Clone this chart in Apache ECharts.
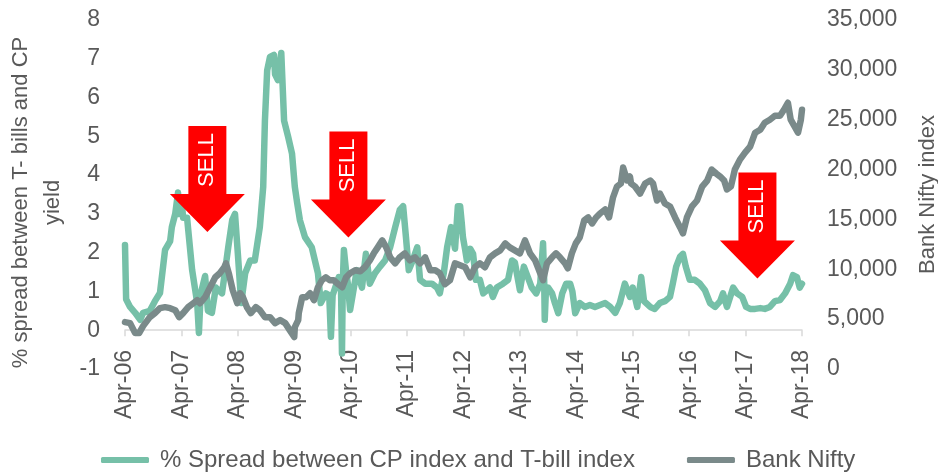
<!DOCTYPE html>
<html>
<head>
<meta charset="utf-8">
<script src="https://cdn.jsdelivr.net/npm/echarts@6/dist/echarts.min.js"></script>
<style>html,body{margin:0;padding:0;background:#fff}#c{width:938px;height:474px}</style>
</head>
<body>
<div id="c"></div>
<script>
// x values: years since Apr-2006
const xTickLabels = ['Apr-06','Apr-07','Apr-08','Apr-09','Apr-10','Apr-11','Apr-12','Apr-13','Apr-14','Apr-15','Apr-16','Apr-17','Apr-18'];
const leftTicks = [-1,0,1,2,3,4,5,6,7,8];
const rightTicks = [0,5000,10000,15000,20000,25000,30000,35000];

const spreadT = [0,0.02,0.09,0.18,0.27,0.32,0.44,0.53,0.62,0.71,0.80,0.83,0.89,0.94,0.96,1.00,1.03,1.10,1.19,1.28,1.31,1.34,1.37,1.42,1.47,1.54,1.61,1.72,1.83,1.90,1.95,2.00,2.06,2.13,2.22,2.30,2.39,2.45,2.48,2.52,2.57,2.64,2.66,2.71,2.77,2.82,2.89,2.96,3.01,3.05,3.10,3.19,3.31,3.42,3.47,3.56,3.62,3.65,3.68,3.70,3.79,3.83,3.846,3.86,3.88,3.92,3.95,3.99,4.04,4.11,4.20,4.27,4.34,4.43,4.52,4.61,4.70,4.79,4.87,4.93,4.98,5.03,5.10,5.18,5.23,5.32,5.44,5.53,5.58,5.65,5.71,5.78,5.85,5.90,5.94,5.97,5.99,6.03,6.06,6.12,6.17,6.22,6.29,6.35,6.47,6.52,6.59,6.70,6.79,6.86,6.91,7.00,7.07,7.14,7.21,7.29,7.36,7.41,7.43,7.44,7.46,7.50,7.57,7.62,7.68,7.75,7.82,7.89,7.93,7.98,8.06,8.15,8.24,8.33,8.42,8.51,8.60,8.69,8.77,8.86,8.95,9.00,9.08,9.15,9.20,9.31,9.39,9.48,9.57,9.66,9.71,9.77,9.84,9.89,9.94,10.01,10.10,10.19,10.28,10.37,10.46,10.55,10.60,10.67,10.78,10.85,10.94,11.01,11.08,11.17,11.26,11.34,11.43,11.52,11.61,11.70,11.79,11.84,11.91,11.96,12.00];
const spreadV = [2.2,0.8,0.6,0.45,0.27,0.45,0.5,0.75,0.96,2.07,2.3,2.66,3.0,3.55,3.0,3.4,2.9,2.9,1.55,0.7,-0.07,0.9,1.1,1.4,0.5,0.45,1.1,0.95,2.14,2.84,3.0,1.98,0.7,1.47,1.8,1.8,2.66,3.7,5.4,6.7,7.05,7.1,6.6,6.45,7.15,5.4,5.0,4.56,3.7,3.3,2.84,2.4,2.14,1.47,0.7,0.95,0.9,-0.17,0.9,0.86,1.37,1.0,-0.6,1.2,2.07,1.5,1.2,0.52,0.95,1.55,1.1,1.97,1.2,1.47,1.64,1.8,2.14,2.66,3.1,3.2,2.4,1.55,1.8,2.14,1.3,1.2,1.2,1.1,0.95,1.47,2.14,2.66,2.1,3.2,3.2,2.75,2.4,2.07,1.8,2.1,1.97,1.3,1.3,0.95,1.1,0.86,1.1,1.2,1.3,1.8,1.75,1.03,1.64,1.37,1.1,0.95,1.2,2.24,1.3,0.27,1.0,1.1,0.95,0.7,0.44,0.95,1.2,1.2,1.0,0.44,0.7,0.6,0.65,0.6,0.65,0.7,0.6,0.45,0.7,1.2,0.86,1.1,0.6,1.37,0.75,0.6,0.55,0.7,0.75,0.86,1.2,1.64,1.9,1.97,1.64,1.3,1.3,1.2,1.03,0.7,0.6,0.75,0.95,0.6,1.1,0.95,0.86,0.6,0.55,0.55,0.57,0.55,0.6,0.75,0.78,0.95,1.2,1.42,1.37,1.1,1.2];

const niftyT = [0,0.09,0.18,0.25,0.32,0.44,0.53,0.62,0.71,0.80,0.89,0.96,1.03,1.12,1.21,1.28,1.33,1.42,1.51,1.60,1.68,1.76,1.79,1.84,1.91,1.99,2.04,2.09,2.16,2.23,2.32,2.39,2.48,2.57,2.66,2.75,2.84,2.92,3.00,3.01,3.07,3.08,3.14,3.21,3.28,3.35,3.42,3.49,3.56,3.63,3.70,3.78,3.85,3.92,3.99,4.08,4.17,4.25,4.34,4.41,4.48,4.56,4.63,4.70,4.79,4.87,4.96,5.05,5.14,5.23,5.32,5.41,5.50,5.58,5.67,5.76,5.85,5.94,6.03,6.12,6.20,6.29,6.38,6.47,6.56,6.65,6.74,6.82,6.91,7.00,7.09,7.18,7.27,7.36,7.41,7.48,7.57,7.64,7.71,7.80,7.85,7.92,7.99,8.06,8.14,8.21,8.28,8.35,8.42,8.51,8.58,8.65,8.72,8.79,8.83,8.90,8.95,8.97,9.04,9.13,9.22,9.31,9.36,9.43,9.48,9.57,9.66,9.75,9.84,9.89,9.96,10.05,10.14,10.23,10.32,10.40,10.48,10.55,10.62,10.67,10.74,10.81,10.90,10.99,11.08,11.17,11.26,11.34,11.43,11.52,11.61,11.68,11.75,11.80,11.86,11.93,11.98,12.00];
const niftyV = [4700,4600,3600,3600,4300,5200,5600,6100,6200,6100,5900,5200,5600,6200,6600,6900,6600,7200,8200,9200,9600,10200,10600,9600,7900,6600,7600,7200,6200,5600,6200,5900,5200,5200,4600,4900,4600,3900,3200,4200,4900,5600,7200,7200,7600,6900,8200,8900,9200,8900,8900,8500,8200,9200,9600,9900,9800,10200,10900,11600,12200,12900,12200,11200,10600,11200,11600,10900,11200,10600,11200,9900,9900,9600,8500,8900,10600,10400,10200,9200,10200,10600,10200,11200,11600,11900,12600,12200,11900,11600,12900,11600,10900,9600,8900,10600,11200,11600,11200,10600,10100,11600,12600,13200,14900,15200,14600,15200,15600,16000,15200,17200,18300,18600,20200,18900,19300,18600,18300,17600,18600,18900,18600,16900,17600,16600,16300,15200,14200,13600,15200,16300,16900,18300,18900,20000,19600,19300,18900,18000,18300,20000,21000,21700,22300,23700,24000,24700,25000,25400,25400,26000,26700,25000,24400,23700,25000,26000];

// SELL annotations: [years since Apr-06, spread value at arrow centre]
const sellT = [1.46, 3.96, 11.21];
const sellV = [3.90, 3.76, 2.70];

const zip = (a, b) => a.map((v, i) => [v, b[i]]);
const txt = '#595959';
const font = '"Liberation Sans", Arial, sans-serif';
const arrowPath = 'path://M18.5,0 L56.5,0 L56.5,68 L75,68 L37.5,106 L0,68 L18.5,68 Z';

const chart = echarts.init(document.getElementById('c'), null, {renderer: 'canvas'});
chart.setOption({
  animation: false,
  textStyle: {fontFamily: font, color: txt},
  grid: {left: 125, right: 136, top: 20, bottom: 105, containLabel: false, outerBoundsMode: 'none'},
  legend: {
    top: 443, left: 96, itemWidth: 48, itemHeight: 6, itemGap: 52,
    icon: 'roundRect',
    textStyle: {fontFamily: font, fontSize: 24, color: txt, padding: [0, 0, 0, 6]},
    data: ['% Spread between CP index and T-bill index', 'Bank Nifty']
  },
  xAxis: {
    type: 'value', min: 0, max: 12, interval: 1,
    axisLine: {show: true, onZero: true, onZeroAxisIndex: 0, lineStyle: {color: '#d9d9d9', width: 1.5}},
    axisTick: {show: true, length: 6, lineStyle: {color: '#d9d9d9', width: 1.5}},
    splitLine: {show: false},
    axisLabel: {rotate: 90, margin: -19, fontSize: 23, color: txt, fontFamily: font,
      formatter: v => xTickLabels[Math.round(v)] || ''}
  },
  yAxis: [{
    type: 'value', min: leftTicks[0], max: leftTicks[leftTicks.length - 1], interval: 1,
    position: 'left',
    axisLine: {show: false}, axisTick: {show: false}, splitLine: {show: false},
    axisLabel: {fontSize: 23, color: txt, margin: 25, fontFamily: font},
    name: '% spread between T- bills and CP\nyield',
    nameLocation: 'middle', nameRotate: 90, nameGap: 55,
    nameTextStyle: {fontSize: 22, color: txt, fontFamily: font, lineHeight: 32, padding: [0, 16, 0, 0]}
  }, {
    type: 'value', min: rightTicks[0], max: rightTicks[rightTicks.length - 1], interval: 5000,
    position: 'right',
    axisLine: {show: false}, axisTick: {show: false}, splitLine: {show: false},
    axisLabel: {fontSize: 23, color: txt, margin: 25, fontFamily: font,
      formatter: v => v.toLocaleString('en-US')},
    name: 'Bank Nifty index',
    nameLocation: 'middle', nameRotate: 90, nameGap: 115,
    nameTextStyle: {fontSize: 22, color: txt, fontFamily: font}
  }],
  series: [{
    name: '% Spread between CP index and T-bill index',
    type: 'line', yAxisIndex: 0, showSymbol: false, z: 2,
    data: zip(spreadT, spreadV),
    itemStyle: {color: '#76c0a8'},
    lineStyle: {color: '#76c0a8', width: 6.5, cap: 'round', join: 'round'},
    markPoint: {
      z: 10,
      symbol: arrowPath, symbolSize: [75, 106], symbolKeepAspect: false,
      itemStyle: {color: '#ff0000'},
      label: {show: true, position: 'inside', formatter: 'SELL', rotate: 90,
        color: '#ffffff', fontSize: 22, fontFamily: font, offset: [19, 0]},
      data: sellT.map((t, i) => ({coord: [t, sellV[i]]}))
    }
  }, {
    name: 'Bank Nifty',
    type: 'line', yAxisIndex: 1, showSymbol: false, z: 3,
    data: zip(niftyT, niftyV),
    itemStyle: {color: '#7a8a8a'},
    lineStyle: {color: '#7a8a8a', width: 6.5, cap: 'round', join: 'round'}
  }]
});
</script>
</body>
</html>
